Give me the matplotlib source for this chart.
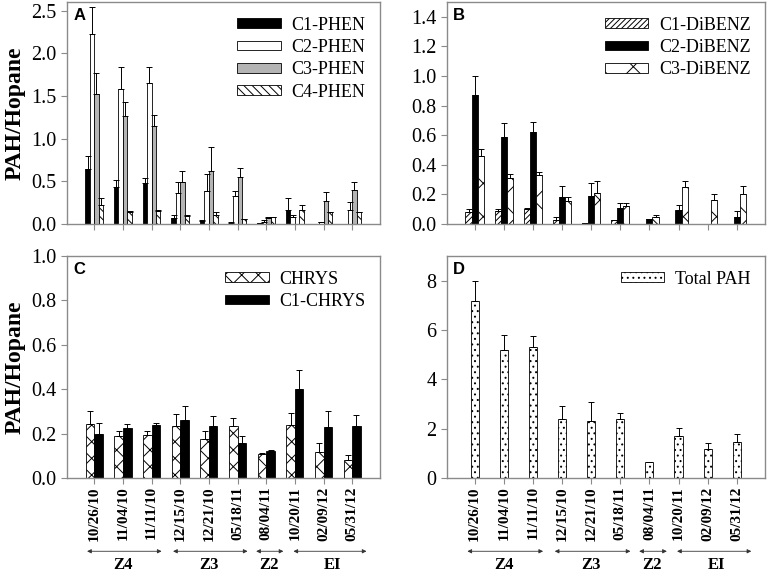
import numpy as np
import matplotlib
matplotlib.use('Agg')
import matplotlib.pyplot as plt
from matplotlib.ticker import FormatStrFormatter

plt.rcParams['font.family'] = ['Liberation Serif', 'DejaVu Serif']
plt.rcParams['hatch.linewidth'] = 0.7

dates = ['10/26/10', '11/04/10', '11/11/10', '12/15/10', '12/21/10',
         '05/18/11', '08/04/11', '10/20/11', '02/09/12', '05/31/12']
zones = ['Z4', 'Z3', 'Z2', 'EI']

# panel A - phenanthrenes (mean, upper error)
c1_phen = [0.65, 0.43, 0.48, 0.074, 0.04, 0.015, 0.008, 0.167, 0.004, 0.004]
c1_phen_err = [0.15, 0.08, 0.06, 0.036, 0.01, 0.005, 0.0, 0.143, 0.0, 0.0]
c2_phen = [2.23, 1.58, 1.65, 0.36, 0.39, 0.33, 0.025, 0.081, 0.02, 0.163]
c2_phen_err = [0.31, 0.26, 0.19, 0.13, 0.20, 0.06, 0.022, 0.02, 0.0, 0.093]
c3_phen = [1.52, 1.26, 1.15, 0.49, 0.62, 0.55, 0.066, 0.0, 0.27, 0.396]
c3_phen_err = [0.25, 0.17, 0.13, 0.13, 0.28, 0.11, 0.019, 0.0, 0.11, 0.10]
c4_phen = [0.22, 0.14, 0.155, 0.093, 0.11, 0.055, 0.078, 0.167, 0.14, 0.14]
c4_phen_err = [0.08, 0.015, 0.005, 0.017, 0.03, 0.005, 0.007, 0.053, 0.005, 0.005]

# panel B - dibenzothiophenes
c1_dib = [0.083, 0.09, 0.10, 0.03, 0.005, 0.025, 0.0, 0.0, 0.0, 0.003]
c1_dib_err = [0.017, 0.01, 0.01, 0.015, 0.0, 0.003, 0.0, 0.0, 0.0, 0.0]
c2_dib = [0.87, 0.59, 0.62, 0.18, 0.19, 0.11, 0.034, 0.095, 0.0, 0.05]
c2_dib_err = [0.13, 0.09, 0.07, 0.08, 0.09, 0.03, 0.002, 0.035, 0.0, 0.035]
c3_dib = [0.46, 0.31, 0.33, 0.155, 0.21, 0.125, 0.05, 0.25, 0.16, 0.20]
c3_dib_err = [0.05, 0.03, 0.02, 0.025, 0.08, 0.02, 0.01, 0.04, 0.04, 0.055]

# panel C - chrysenes
chrys = [0.245, 0.19, 0.195, 0.235, 0.174, 0.233, 0.108, 0.238, 0.119, 0.082]
chrys_err = [0.055, 0.02, 0.015, 0.055, 0.036, 0.037, 0.003, 0.056, 0.037, 0.022]
c1_chrys = [0.20, 0.225, 0.24, 0.26, 0.233, 0.156, 0.123, 0.40, 0.23, 0.236]
c1_chrys_err = [0.05, 0.02, 0.01, 0.065, 0.047, 0.034, 0.005, 0.086, 0.07, 0.049]

# panel D - total PAH
total_pah = [7.18, 5.18, 5.31, 2.39, 2.31, 2.38, 0.64, 1.71, 1.16, 1.46]
total_pah_err = [0.82, 0.64, 0.44, 0.55, 0.77, 0.27, 0.0, 0.31, 0.24, 0.33]

x = np.arange(len(dates))
frame = '#8a8a8a'

fig = plt.figure(figsize=(7.67, 5.72), dpi=100)
axA = fig.add_axes([0.0874, 0.6084, 0.408, 0.388])
axB = fig.add_axes([0.5828, 0.6084, 0.4146, 0.388])
axC = fig.add_axes([0.0874, 0.1643, 0.408, 0.388])
axD = fig.add_axes([0.5828, 0.1643, 0.4146, 0.388])


def bars(ax, pos, vals, errs, w, label, color='white', hatch=None):
    ax.bar(pos, vals, w, color=color, edgecolor='black', linewidth=0.6,
           hatch=hatch, label=label)
    ax.errorbar(pos, vals, yerr=[np.zeros(len(vals)), errs], fmt='none',
                ecolor='black', elinewidth=0.7, capsize=2.5, capthick=0.7)


w = 0.155
bars(axA, x - 1.5 * w, c1_phen, c1_phen_err, w, 'C1-PHEN', 'black')
bars(axA, x - 0.5 * w, c2_phen, c2_phen_err, w, 'C2-PHEN', 'white')
bars(axA, x + 0.5 * w, c3_phen, c3_phen_err, w, 'C3-PHEN', '#b4b4b4')
bars(axA, x + 1.5 * w, c4_phen, c4_phen_err, w, 'C4-PHEN', 'white', '\\\\\\\\')

w = 0.21
bars(axB, x - w, c1_dib, c1_dib_err, w, 'C1-DiBENZ', 'white', '//////')
bars(axB, x, c2_dib, c2_dib_err, w, 'C2-DiBENZ', 'black')
bars(axB, x + w, c3_dib, c3_dib_err, w, 'C3-DiBENZ', 'white', 'x')

w = 0.3
bars(axC, x - 0.5 * w, chrys, chrys_err, w, 'CHRYS', 'white', 'xx')
bars(axC, x + 0.5 * w, c1_chrys, c1_chrys_err, w, 'C1-CHRYS', 'black')

bars(axD, x, total_pah, total_pah_err, 0.28, 'Total PAH', 'white', '...')

axA.set_ylim(0, 2.6)
axA.set_yticks(np.arange(0, 2.51, 0.5))
axB.set_ylim(0, 1.5)
axB.set_yticks(np.arange(0, 1.41, 0.2))
axC.set_ylim(0, 1.0)
axC.set_yticks(np.arange(0, 1.01, 0.2))
axD.set_ylim(0, 9)
axD.set_yticks([0, 2, 4, 6, 8])

for ax, letter in zip([axA, axB, axC, axD], 'ABCD'):
    ax.set_xlim(-0.95, 9.97)
    ax.set_xticks(x)
    for s in ax.spines.values():
        s.set_color(frame)
        s.set_linewidth(1.0)
    ax.tick_params(axis='both', colors=frame, labelcolor='black',
                   labelsize=14.5, length=4, width=0.8)
    ax.tick_params(axis='x', pad=2)
    ax.text(0.02, 0.975, letter, transform=ax.transAxes, fontsize=12,
            fontweight='bold', family='Liberation Sans', va='top')
    if letter != 'D':
        ax.yaxis.set_major_formatter(FormatStrFormatter('%.1f'))
    leg = ax.legend(loc='upper right', frameon=False, fontsize=13,
                    handlelength=2.4, handleheight=0.45, labelspacing=0.3,
                    handletextpad=0.6, borderaxespad=0.4)

for ax in [axA, axB]:
    ax.set_xticklabels([])

for ax in [axA, axC]:
    ax.set_ylabel('PAH/Hopane', fontsize=17, fontweight='bold', labelpad=4)

spans = [(-0.25, 2.35), (2.75, 5.35), (5.65, 6.6), (6.95, 9.5)]
centers = [1.0, 4.0, 6.1, 8.3]
for ax in [axC, axD]:
    ax.set_xticklabels(dates, rotation=90, fontsize=11, fontweight='bold')
    tr = ax.get_xaxis_transform()
    for (a, b), c, z in zip(spans, centers, zones):
        ax.annotate('', xy=(a, -0.33), xytext=(b, -0.33), xycoords=tr,
                    textcoords=tr, annotation_clip=False,
                    arrowprops=dict(arrowstyle='<|-|>', lw=0.6, color='#333333',
                                    mutation_scale=6, shrinkA=0, shrinkB=0))
        ax.text(c, -0.355, z, transform=tr, ha='center', va='top',
                fontsize=12, fontweight='bold')

fig.savefig('out.png', dpi=100)
